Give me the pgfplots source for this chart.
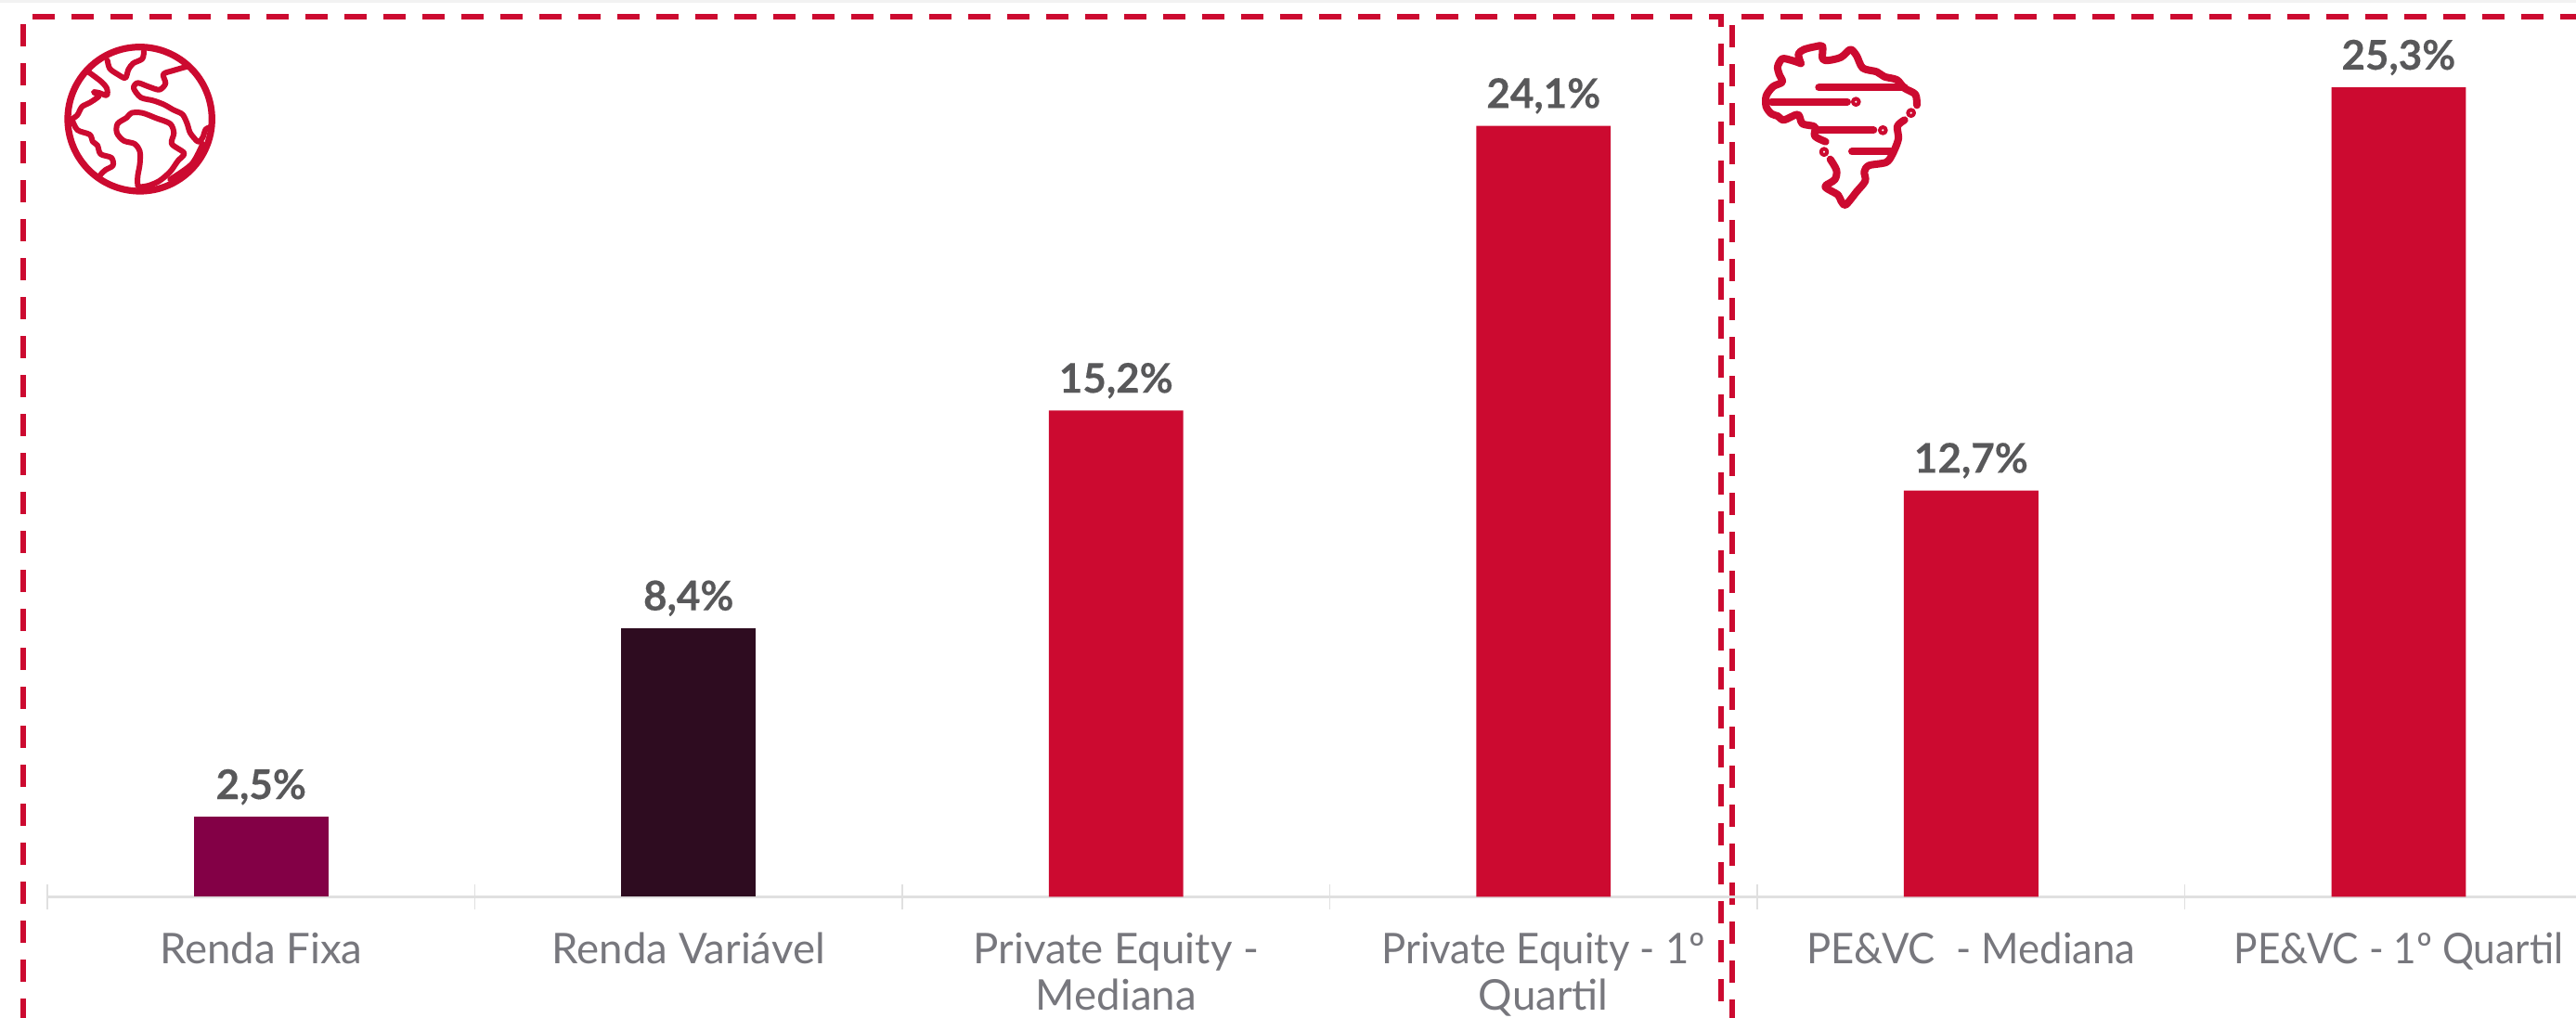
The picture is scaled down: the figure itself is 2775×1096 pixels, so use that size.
\documentclass[border=0pt]{standalone}
\usepackage{pgfplots}
\pgfplotsset{compat=1.18}
\usepackage{fontspec}
\setmainfont{Lato}
\definecolor{cred}{HTML}{CC0A30}
\definecolor{cplum}{HTML}{830046}
\definecolor{cdark}{HTML}{2E0C20}
\definecolor{clabel}{HTML}{58585A}
\definecolor{ctick}{HTML}{77777D}
\definecolor{caxis}{HTML}{E0E0E0}
\begin{document}
\begin{tikzpicture}[x=0.25pt,y=-0.25pt]
\clip (0,0) rectangle (2775,1096);
\fill[white] (0,0) rectangle (2775,1096);
\fill[black!5] (0,0) rectangle (2775,3);
% dashed frames
\begin{scope}[cred,line width=1.5pt,dash pattern=on 6pt off 4.5pt]
\draw (35,18) -- (1854,18) -- (1854,1100);
\draw (25,26) -- (25,1100);
\draw (1866,27) -- (1866,1100);
\draw (1876,18) -- (2780,18);
\end{scope}
% globe icon
\begin{scope}[x=0.08333pt,y=-0.08333pt,cred,line width=1.5pt,line cap=round,line join=round]
\draw[line width=1.8pt] (452,385) circle (233);
\draw plot[smooth] coordinates {(347,195) (355,222) (380,240) (405,252) (415,225) (430,205) (460,190) (465,165)};
\draw plot[smooth] coordinates {(285,232) (325,262) (345,285) (345,308) (320,300) (303,298) (320,310) (290,332) (265,345) (250,372) (232,385)};
\draw plot[smooth] coordinates {(605,215) (560,228) (528,240) (535,270) (515,290) (480,280) (445,268) (432,285) (455,315) (495,325) (530,338) (560,355) (590,370) (605,400) (615,430) (640,458) (655,445) (665,418) (685,410)};
\draw plot[smooth] coordinates {(445,600) (445,570) (452,530) (452,490) (435,465) (400,455) (378,430) (380,400) (410,380) (425,365) (460,365) (505,382) (550,400) (562,430) (555,465) (595,495) (575,520) (550,555) (515,585) (480,600) (450,605)};
\draw plot[smooth] coordinates {(232,385) (250,420) (290,435) (300,458) (315,470) (325,498) (360,510) (365,535) (340,550) (320,570)};
\draw plot[smooth] coordinates {(655,465) (620,530) (550,580)};
\end{scope}
% Brazil icon
\begin{scope}[xshift=450pt,x=0.08333pt,y=-0.08333pt,cred,line width=2pt,line cap=round,line join=round]
\draw plot[smooth] coordinates {(420,205) (390,195) (360,190) (345,215) (350,240) (360,265) (330,280) (308,310) (308,345) (325,368) (345,375) (365,388) (410,370) (425,400) (465,410) (465,440) (500,458)};
\draw plot[smooth] coordinates {(420,205) (412,175) (430,160) (470,150) (490,150) (490,190) (510,195) (550,185) (580,160) (600,180) (620,220) (665,232) (690,248) (730,258) (755,285) (790,305) (795,340)};
\draw plot[smooth] coordinates {(755,388) (732,408) (735,450) (715,500) (695,525) (640,535) (625,555) (628,585) (600,620) (565,662) (550,650) (540,630) (505,610) (500,600) (530,580) (535,550) (515,515)};
\draw (478,283) -- (755,283);
\draw (325,329) -- (570,329);
\draw (478,421) -- (655,421);
\draw (585,490) -- (710,490);
\foreach \p in {(598,329),(685,421),(776,365),(495,491)} \draw[line width=1pt] \p circle (10);
\end{scope}
\begin{axis}[
  at={(12.75pt,-241.6pt)},anchor=south west,
  scale only axis,width=681pt,height=241.6pt,
  xmin=-0.5,xmax=5.415,ymin=0,ymax=28.03,
  clip=false,
  axis y line=none,
  axis x line=bottom,
  axis line style={-,caxis,line width=0.75pt},
  xtick={0,1,2,3,4,5},
  xticklabels={Renda Fixa,Renda Variável,Private Equity -\\Mediana,\scalebox{0.957}[1]{Private Equity - 1º}\\Quartil,\scalebox{0.957}[1]{PE\&VC~ - Mediana},\scalebox{0.93}[1]{PE\&VC - 1º Quartil}},
  minor xtick={-0.5,0.5,1.5,2.5,3.5,4.5},
  major tick length=0pt,
  minor tick length=6.75pt,
  minor tick style={caxis,line width=0.4pt,yshift=3.375pt},
  xticklabel style={align=center,font=\fontsize{11.4}{12.5}\selectfont,text=ctick,anchor=north,yshift=-6.2pt},
  ybar,bar width=36.2pt,bar shift=0pt,
  nodes near coords={\pgfmathprintnumber{\pgfplotspointmeta}\%},
  point meta=explicit,
  every node near coord/.append style={font=\fontsize{11}{13}\selectfont\bfseries\addfontfeature{FakeBold=0.3},text=clabel,yshift=-0.3pt,
     /pgf/number format/.cd,fixed,fixed zerofill,precision=1,use comma,assume math mode=true},
]
\addplot[draw=none,fill=cplum] coordinates {(0,2.5)[2.5]};
\addplot[draw=none,fill=cdark] coordinates {(1,8.4)[8.4]};
\addplot[draw=none,fill=cred] coordinates {(2,15.2)[15.2] (3,24.1)[24.1] (4,12.7)[12.7] (5,25.3)[25.3]};
\end{axis}
\end{tikzpicture}
\end{document}
